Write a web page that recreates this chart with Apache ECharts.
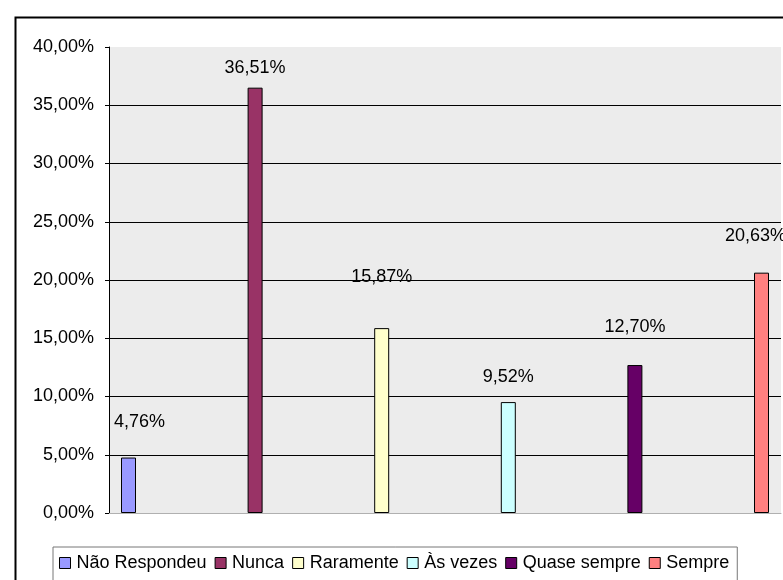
<!DOCTYPE html>
<html>
<head>
<meta charset="utf-8">
<script src="https://cdn.jsdelivr.net/npm/echarts@6/dist/echarts.min.js"></script>
<style>html,body{margin:0;padding:0;background:#fff}#c{width:783px;height:580px}</style>
</head>
<body>
<div id="c"></div>
<script>
const seriesNames = ['Não Respondeu', 'Nunca', 'Raramente', 'Às vezes', 'Quase sempre', 'Sempre'];
const seriesValues = [4.76, 36.51, 15.87, 9.52, 12.70, 20.63];
const seriesColors = ['#9999FF', '#993366', '#FFFFCC', '#CCFFFF', '#660066', '#FF8080'];
const labelDistance = [27, 11, 42, 16, 29, 28];
const labelShiftX = [11, 0, 0, 0, 0, -6];
const yMin = 0, yMax = 40, yStep = 5;

const fmt = v => v.toFixed(2).replace('.', ',') + '%';
const FONT = 'Liberation Sans, Arial, sans-serif';

const chart = echarts.init(document.getElementById('c'), null, {renderer: 'canvas'});
const gridColors = [];
for (let v = yMin; v <= yMax; v += yStep) {
  gridColors.push(v === yMin ? '#b0b0b0' : (v === yMax ? 'rgba(0,0,0,0)' : '#000'));
}
const series = seriesNames.map((name, i) => ({
  name: name,
  type: 'bar',
  data: [seriesValues[i]],
  barWidth: 15,
  barGap: '744%',
  itemStyle: {color: seriesColors[i], borderColor: '#000', borderWidth: 1},
  label: {
    show: true, position: 'top', distance: labelDistance[i], offset: [labelShiftX[i], 0],
    color: '#000', fontSize: 18, fontFamily: FONT,
    formatter: p => fmt(p.value)
  }
}));
chart.setOption({
  animation: false,
  backgroundColor: '#fff',
  graphic: [{
    type: 'rect', left: 13, top: 15, shape: {width: 820, height: 620},
    style: {fill: 'none', stroke: '#000', lineWidth: 2}, silent: true
  }],
  grid: {left: 109, top: 47, right: 2, bottom: 67, show: true, backgroundColor: '#ECECEC', borderWidth: 0},
  xAxis: {
    type: 'category', data: [''],
    axisLine: {show: true, lineStyle: {color: '#b0b0b0', width: 1}},
    axisTick: {show: false}, axisLabel: {show: false}, splitLine: {show: false}
  },
  yAxis: {
    type: 'value', min: yMin, max: yMax, interval: yStep,
    axisLine: {show: true, lineStyle: {color: '#000', width: 1}},
    axisTick: {show: true, length: 4, lineStyle: {color: '#000'}},
    axisLabel: {color: '#000', fontSize: 18, fontFamily: FONT, margin: 15, formatter: v => fmt(v)},
    splitLine: {show: true, lineStyle: {color: gridColors, width: 1}}
  },
  legend: {
    data: seriesNames, left: 53, top: 547, orient: 'horizontal',
    itemWidth: 11, itemHeight: 11, itemGap: 8, icon: 'rect',
    padding: [7, 8, 30, 6],
    borderColor: '#777', borderWidth: 1,
    textStyle: {color: '#000', fontSize: 18, fontFamily: FONT, padding: [0, 0, 0, 1]},
    itemStyle: {borderColor: '#000', borderWidth: 1}
  },
  series: series
});
</script>
</body>
</html>
